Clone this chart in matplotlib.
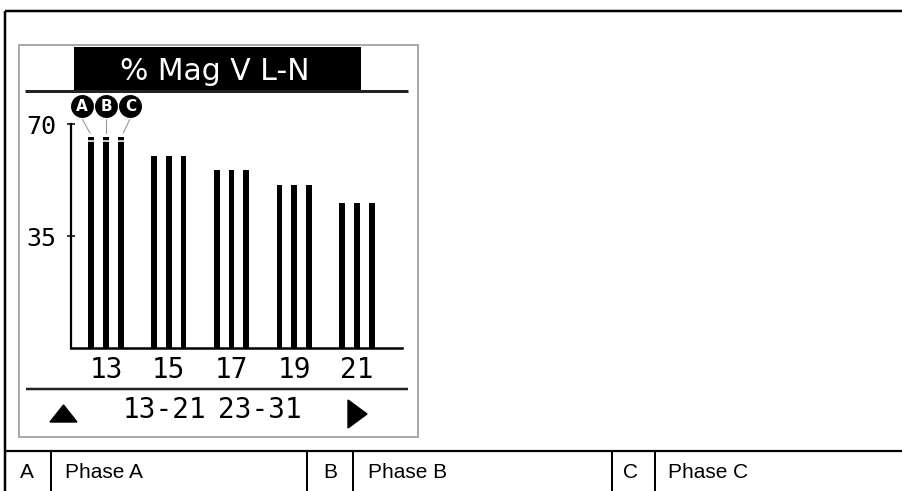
import matplotlib
matplotlib.use("Agg")
import matplotlib.pyplot as plt
from matplotlib.patches import Rectangle, Polygon
import numpy as np

# ---- data ----
harmonics = [13, 15, 17, 19, 21]
phase_a = [65.8, 60.1, 55.6, 50.9, 45.4]
phase_b = [65.8, 60.1, 55.6, 50.9, 45.4]
phase_c = [65.8, 60.1, 55.6, 50.9, 45.4]
y_ticks = [35, 70]
title = "% Mag V L-N"
pages = ["13-21", "23-31"]
phase_codes = ["A", "B", "C"]
phase_names = ["Phase A", "Phase B", "Phase C"]

W, H = 902, 491
fig = plt.figure(figsize=(W / 100, H / 100), dpi=100)
fig.patch.set_facecolor("white")

# overlay in pixel coordinates for the frame / screen decorations
ov = fig.add_axes([0, 0, 1, 1], zorder=0)
ov.set_xlim(0, W)
ov.set_ylim(H, 0)
ov.axis("off")

px = 0.72  # points per pixel

# outer frame
ov.plot([5, 5], [11, H], color="black", lw=2.5 * px, solid_capstyle="butt")
ov.plot([5, W], [11, 11], color="black", lw=2.5 * px, solid_capstyle="butt")
# table lines
ov.plot([5, W], [451, 451], color="black", lw=2.2 * px, solid_capstyle="butt")
for xs in [51, 307, 353, 612, 655]:
    ov.plot([xs, xs], [451, H], color="black", lw=2 * px, solid_capstyle="butt")
code_x = [20, 323, 623]
name_x = [65, 368, 668]
for c, n, cx, nx in zip(phase_codes, phase_names, code_x, name_x):
    ov.text(cx, 472.5, c, fontsize=15, family="Liberation Sans", va="center", ha="left")
    ov.text(nx, 472.5, n, fontsize=15, family="Liberation Sans", va="center", ha="left")

# screen panel
ov.add_patch(Rectangle((19, 45), 399, 392, fill=False, edgecolor="#aaaaaa", lw=2 * px))
ov.add_patch(Rectangle((74, 47), 287, 43, facecolor="black", edgecolor="none"))
ov.text(215, 80, title, color="white", fontsize=21.5, family="DejaVu Sans",
        ha="center", va="baseline")
ov.plot([25, 408], [90.5, 90.5], color="#222222", lw=3 * px, solid_capstyle="butt")
ov.plot([26, 408], [389, 389], color="#222222", lw=2.5 * px, solid_capstyle="butt")
ov.text(165, 418, pages[0], fontsize=20, family="DejaVu Sans Mono", ha="center", va="baseline")
ov.text(259.5, 418, pages[1], fontsize=20, family="DejaVu Sans Mono", ha="center", va="baseline")
ov.add_patch(Polygon([(50, 422), (77, 422), (63.5, 405)], closed=True, color="black"))
ov.add_patch(Polygon([(348, 400), (348, 428), (367, 414)], closed=True, color="black"))

# ---- main chart ----
ax = fig.add_axes([71 / W, 1 - 348 / H, 331 / W, 224 / H], zorder=1)
ax.set_facecolor("none")
xmin = 13 - 35 / 31.375
ax.set_xlim(xmin, xmin + 331 / 31.375)
ax.set_ylim(0, 70)

off = 0.47
bw = 0.19
x = np.array(harmonics, dtype=float)
for vals, d in zip([phase_a, phase_b, phase_c], [-off, 0, off]):
    ax.bar(x + d, vals, width=bw, color="black", zorder=2)

# small gap near the top of the first group's bars
for d in [-off, 0, off]:
    ax.plot([harmonics[0] + d - bw, harmonics[0] + d + bw], [64.7, 64.7],
            color="white", lw=1.6 * px, zorder=3, solid_capstyle="butt")

# phase markers above first group
mark_dx = [-0.78, 0.0, 0.78]
mark_y = 75.6
for code, mdx, d in zip(phase_codes, mark_dx, [-off, 0, off]):
    x0 = harmonics[0] + mdx
    xb = harmonics[0] + d
    ax.plot([x0, xb - (0.04 if d < 0 else (-0.08 if d > 0 else 0))],
            [71.9, 67.2], color="#999999", lw=0.8, clip_on=False, zorder=2)
    ax.scatter([x0], [mark_y], s=300, color="black", edgecolor="white", linewidths=0.8,
               clip_on=False, zorder=4)
    ax.text(x0, mark_y, code, color="white", fontsize=11, fontweight="bold",
            family="DejaVu Sans", ha="center", va="center", clip_on=False, zorder=5)

for s in ["top", "right"]:
    ax.spines[s].set_visible(False)
ax.spines["left"].set_linewidth(1.6)
ax.spines["bottom"].set_linewidth(1.8)

ax.set_yticks(y_ticks)
ax.set_yticklabels([str(v) for v in y_ticks], family="DejaVu Sans Mono", fontsize=18)
ax.tick_params(axis="y", direction="inout", length=5.8, width=1.1, pad=7.5)
ax.set_xticks(harmonics)
ax.set_xticklabels([str(h) for h in harmonics], family="DejaVu Sans Mono", fontsize=20)
ax.tick_params(axis="x", length=0, pad=6)

fig.savefig("out.png", dpi=100)
